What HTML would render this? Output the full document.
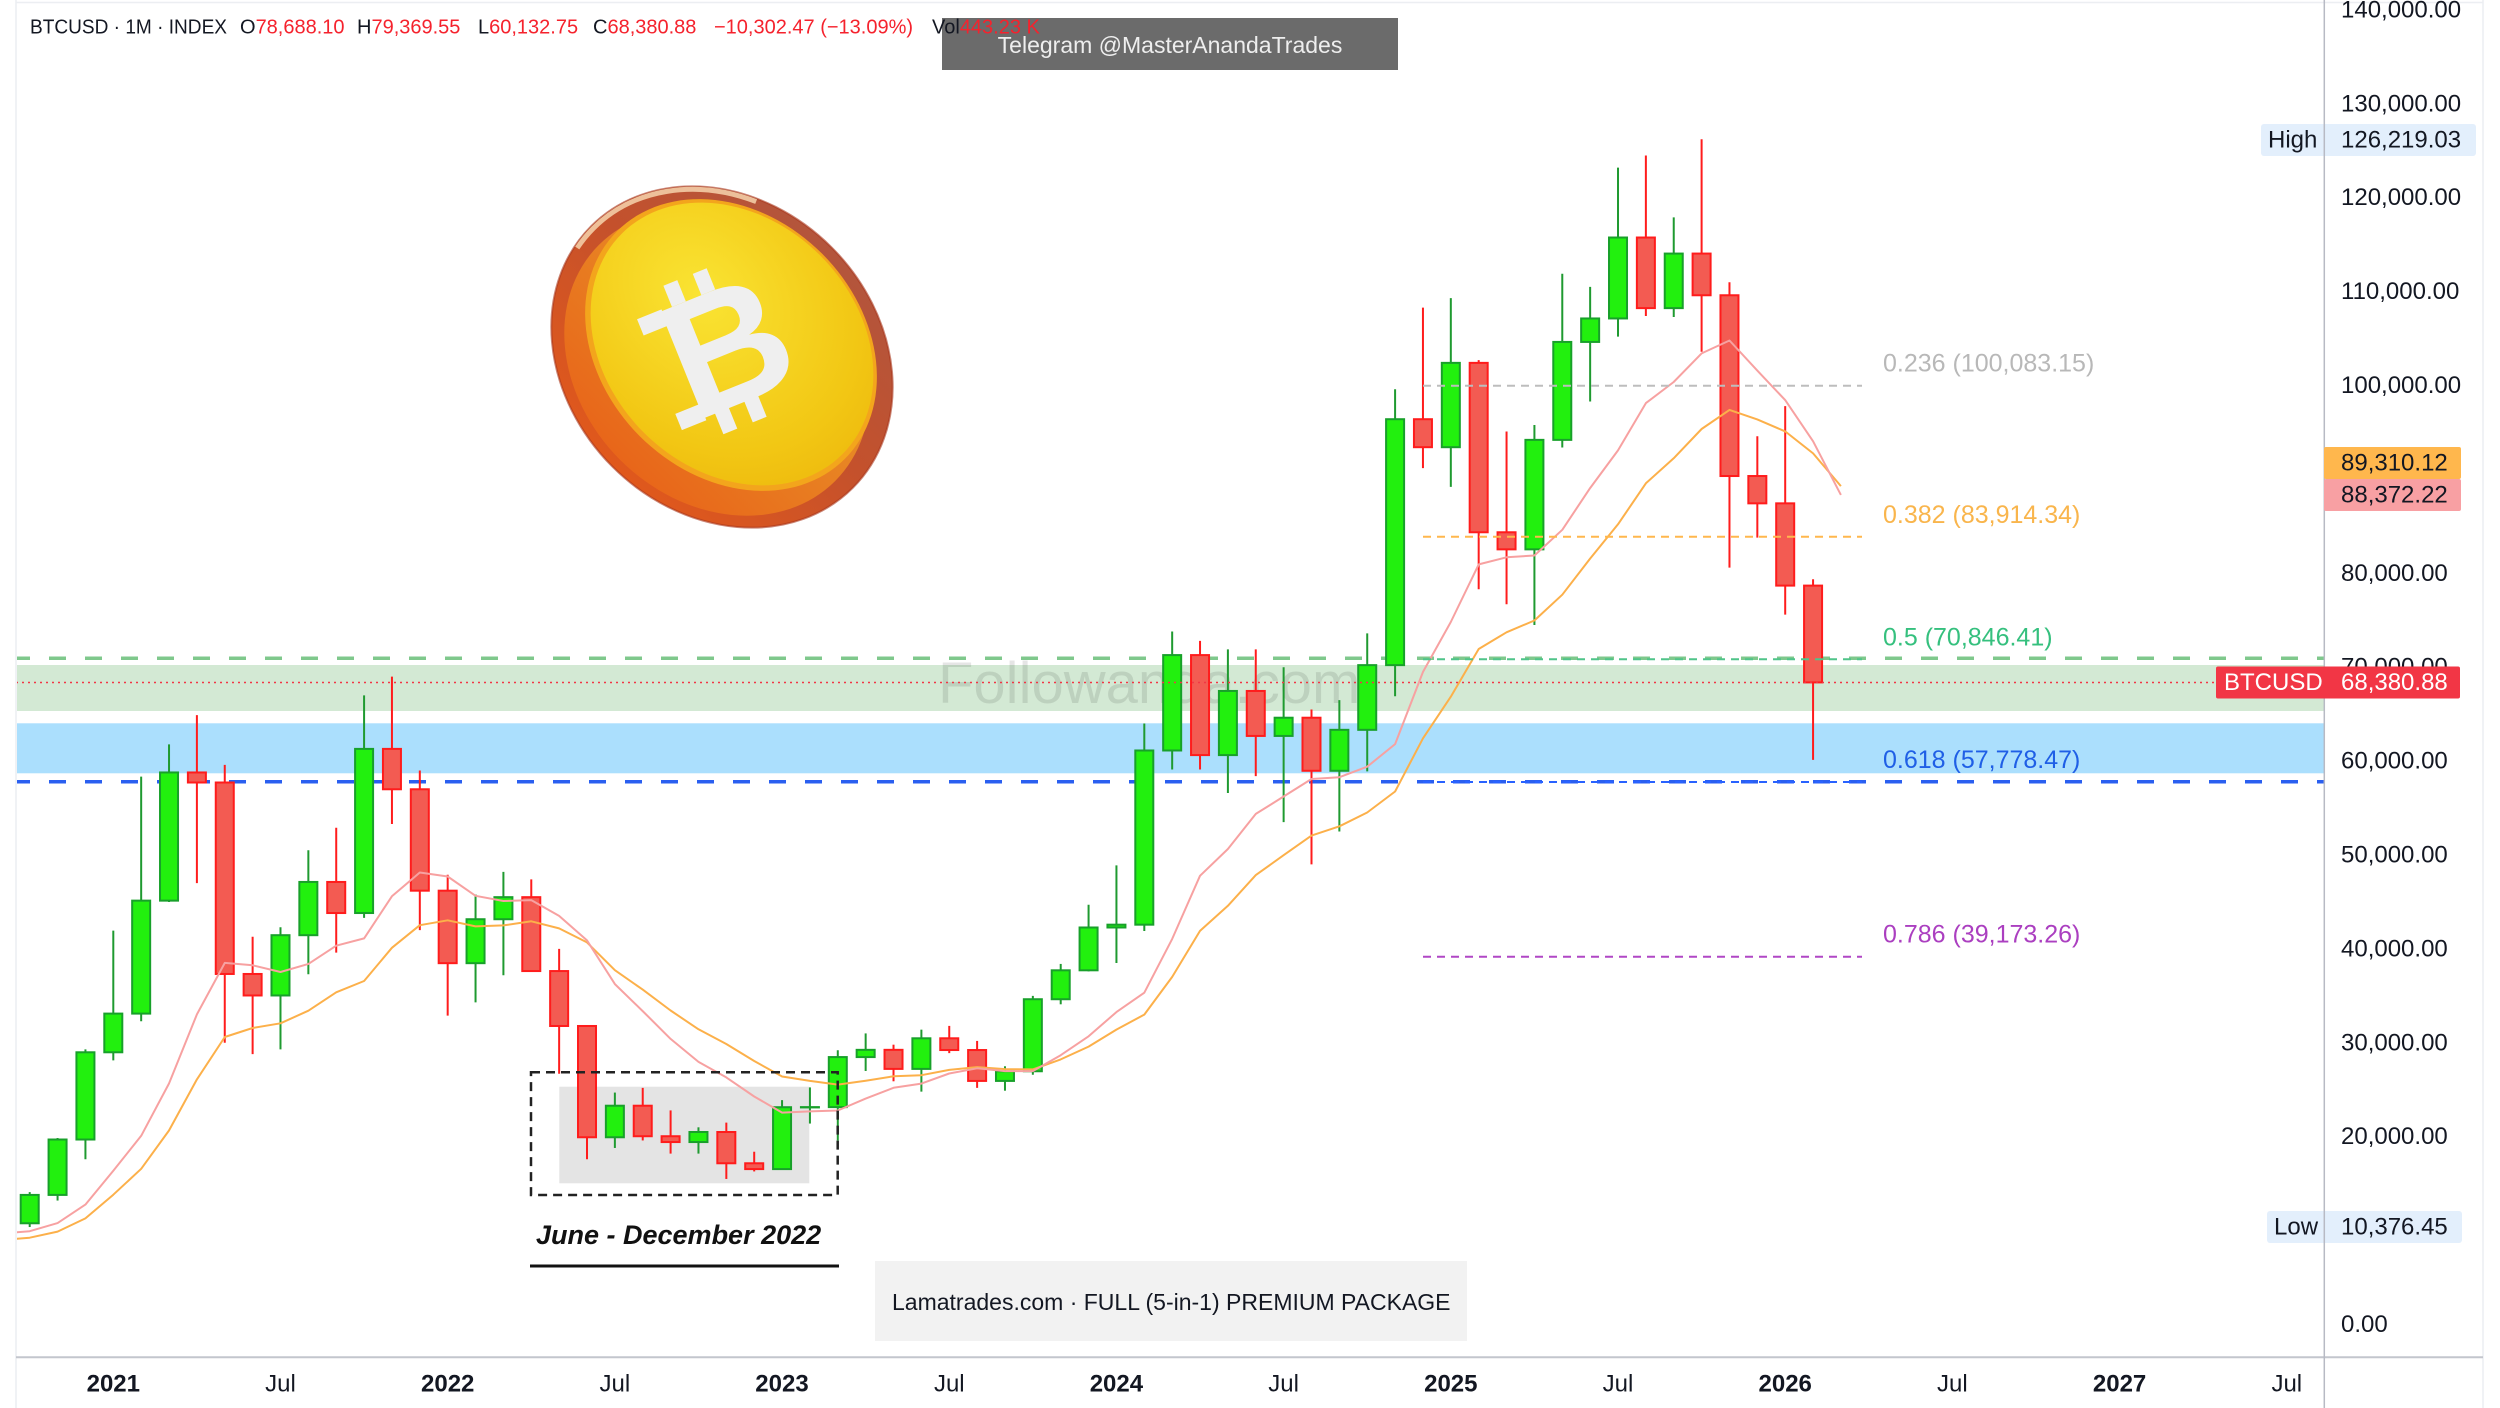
<!DOCTYPE html>
<html><head><meta charset="utf-8"><style>
html,body{margin:0;padding:0;background:#fff;width:2500px;height:1408px;overflow:hidden}
svg{display:block}
</style></head><body>
<svg id="s" width="2500" height="1408" viewBox="0 0 2500 1408" xmlns="http://www.w3.org/2000/svg" font-family="'Liberation Sans', Arial, sans-serif">
<defs>
 <clipPath id="pane"><rect x="17" y="3" width="2307" height="1354"/></clipPath>
 <linearGradient id="rimg" x1="0" y1="0" x2="0" y2="1">
  <stop offset="0" stop-color="#b3553c"/>
  <stop offset="0.45" stop-color="#c4512c"/>
  <stop offset="1" stop-color="#e0581c"/>
 </linearGradient>
 <linearGradient id="bandg" x1="0" y1="0" x2="0" y2="1">
  <stop offset="0" stop-color="#e79a2a"/>
  <stop offset="1" stop-color="#e8661a"/>
 </linearGradient>
 <radialGradient id="faceg" cx="0.32" cy="0.45" r="0.85">
  <stop offset="0" stop-color="#fae433"/>
  <stop offset="0.65" stop-color="#f2c714"/>
  <stop offset="1" stop-color="#ebb20a"/>
 </radialGradient>
</defs>
<rect width="2500" height="1408" fill="#fff"/>

<!-- frame -->
<line x1="16" y1="2.5" x2="2483" y2="2.5" stroke="#eceef2" stroke-width="1.5"/>
<line x1="16" y1="0" x2="16" y2="1408" stroke="#eceef2" stroke-width="1.5"/>
<line x1="2483" y1="0" x2="2483" y2="1408" stroke="#eceef2" stroke-width="1.5"/>

<g clip-path="url(#pane)">
 <!-- zones -->
 <rect x="16" y="665" width="2310" height="46" fill="#d3e9d4"/>
 <rect x="16" y="723.3" width="2310" height="50" fill="#abdffd"/>
 <!-- 2022 gray box fill -->
 <rect x="559.3" y="1086.7" width="250" height="96.6" fill="#e4e4e4"/>
 <!-- watermark -->
 <text x="938" y="703" font-size="58" fill="#000" fill-opacity="0.1">Followanda.com</text>
 <!-- thick horizontal dashed lines -->
 <line x1="13" y1="658.3" x2="2324" y2="658.3" stroke="#7fc88c" stroke-width="3.5" stroke-dasharray="17 19"/>
 <line x1="13" y1="781.7" x2="2324" y2="781.7" stroke="#2a5ff0" stroke-width="3.5" stroke-dasharray="17 19"/>
 <g id="cndl"></g>
 <g id="ma"></g>
 <!-- fib lines -->
 <line x1="1423" y1="385.7" x2="1862" y2="385.7" stroke="#bdbdbd" stroke-width="2" stroke-dasharray="8 6"/>
 <line x1="1423" y1="536.7" x2="1862" y2="536.7" stroke="#ffb74d" stroke-width="2" stroke-dasharray="8 6"/>
 <line x1="1423" y1="659.3" x2="1862" y2="659.3" stroke="#4fc489" stroke-width="2" stroke-dasharray="8 6"/>
 <line x1="1423" y1="782" x2="1862" y2="782" stroke="#2962ff" stroke-width="2" stroke-dasharray="8 6"/>
 <line x1="1423" y1="956.7" x2="1862" y2="956.7" stroke="#b047c5" stroke-width="2" stroke-dasharray="8 6"/>
 <!-- last price dotted line -->
 <line x1="16" y1="682.5" x2="2324" y2="682.5" stroke="#f23645" stroke-width="1.5" stroke-dasharray="2 4"/>
 <!-- dashed black box -->
 <rect x="531" y="1072.3" width="306.7" height="122.7" fill="none" stroke="#222" stroke-width="2.5" stroke-dasharray="9 6"/>
</g>

<!-- fib labels -->
<g font-size="25">
 <text x="1883" y="363.5" fill="#b8b8b8" dominant-baseline="central">0.236 (100,083.15)</text>
 <text x="1883" y="515" fill="#f9b54c" dominant-baseline="central">0.382 (83,914.34)</text>
 <text x="1883" y="637.5" fill="#35c07e" dominant-baseline="central">0.5 (70,846.41)</text>
 <text x="1883" y="760" fill="#1f5fe6" dominant-baseline="central">0.618 (57,778.47)</text>
 <text x="1883" y="934.7" fill="#ab3fc0" dominant-baseline="central">0.786 (39,173.26)</text>
</g>

<!-- June - December 2022 label -->
<text x="536" y="1235" font-size="27" font-weight="bold" font-style="italic" fill="#111" dominant-baseline="central">June - December 2022</text>
<line x1="530" y1="1266" x2="839" y2="1266" stroke="#111" stroke-width="3"/>

<!-- bottom box -->
<rect x="875" y="1261" width="592" height="80" fill="#f2f2f2"/>
<text x="892" y="1302" font-size="23" fill="#131722" dominant-baseline="central">Lamatrades.com · FULL (5-in-1) PREMIUM PACKAGE</text>

<!-- coin -->
<g id="coin">
 <ellipse cx="722" cy="357" rx="185" ry="155" transform="rotate(45 722 357)" fill="url(#rimg)" stroke="#a8361a" stroke-width="2" stroke-opacity="0.6"/>
 <ellipse cx="722" cy="357" rx="182" ry="152" transform="rotate(45 722 357)" fill="none" stroke="#f6d3ad" stroke-width="5" stroke-opacity="0.85" stroke-dasharray="200 2000" stroke-dashoffset="-500"/>
 <ellipse cx="717" cy="363" rx="167" ry="137" transform="rotate(45 717 363)" fill="url(#bandg)"/>
 <ellipse cx="731" cy="345" rx="161" ry="129" transform="rotate(45 731 345)" fill="#f3a51c"/>
 <ellipse cx="732" cy="344" rx="156" ry="125" transform="rotate(45 732 344)" fill="url(#faceg)"/>
 <g transform="translate(728,347) rotate(-22) scale(0.88)" fill="#efefef">
  <text x="0" y="0" font-size="190" font-weight="bold" text-anchor="middle" dominant-baseline="central">B</text>
  <rect x="-42" y="-92" width="17" height="26"/>
  <rect x="-6" y="-92" width="17" height="26"/>
  <rect x="-42" y="64" width="17" height="26"/>
  <rect x="-6" y="64" width="17" height="26"/>
  <rect x="-84" y="-68" width="30" height="20"/>
  <rect x="-84" y="48" width="30" height="20"/>
 </g>
</g>

<!-- Telegram box + header -->
<rect x="942" y="18" width="456" height="52" fill="#6b6b6b"/>
<text x="1170" y="45" font-size="23" fill="#eeeeee" text-anchor="middle" dominant-baseline="central">Telegram @MasterAnandaTrades</text>
<g font-size="20" fill="#131722">
 <text x="30" y="27.5" dominant-baseline="central" textLength="197" lengthAdjust="spacingAndGlyphs">BTCUSD · 1M · INDEX</text>
 <text x="240" y="27.5" dominant-baseline="central">O<tspan fill="#f5222d">78,688.10</tspan></text>
 <text x="357" y="27.5" dominant-baseline="central">H<tspan fill="#f5222d">79,369.55</tspan></text>
 <text x="478" y="27.5" dominant-baseline="central">L<tspan fill="#f5222d">60,132.75</tspan></text>
 <text x="593" y="27.5" dominant-baseline="central">C<tspan fill="#f5222d">68,380.88</tspan></text>
 <text x="714" y="27.5" fill="#f5222d" dominant-baseline="central">−10,302.47 (−13.09%)</text>
 <text x="932" y="27.5" dominant-baseline="central">Vol<tspan fill="#f5222d">443.23 K</tspan></text>
</g>

<!-- axes lines -->
<line x1="16" y1="1357.3" x2="2483" y2="1357.3" stroke="#c3c6cd" stroke-width="2"/>

<!-- price labels -->
<g font-size="24" fill="#131722">
 <text x="2341" y="9.9" dominant-baseline="central">140,000.00</text>
 <text x="2341" y="103.8" dominant-baseline="central">130,000.00</text>
 <text x="2341" y="197.7" dominant-baseline="central">120,000.00</text>
 <text x="2341" y="291.6" dominant-baseline="central">110,000.00</text>
 <text x="2341" y="385.5" dominant-baseline="central">100,000.00</text>
 <text x="2341" y="573.3" dominant-baseline="central">80,000.00</text>
 <text x="2341" y="667.2" dominant-baseline="central">70,000.00</text>
 <text x="2341" y="761.1" dominant-baseline="central">60,000.00</text>
 <text x="2341" y="855" dominant-baseline="central">50,000.00</text>
 <text x="2341" y="948.9" dominant-baseline="central">40,000.00</text>
 <text x="2341" y="1042.8" dominant-baseline="central">30,000.00</text>
 <text x="2341" y="1136.7" dominant-baseline="central">20,000.00</text>
 <text x="2341" y="1324.5" dominant-baseline="central">0.00</text>
</g>

<!-- High / Low tags -->
<rect x="2261" y="124" width="215" height="32" rx="3" fill="#e3effc"/>
<rect x="2267" y="1211" width="195" height="32" rx="3" fill="#e3effc"/>
<line x1="2324.3" y1="0" x2="2324.3" y2="1408" stroke="#b7bac4" stroke-width="1.5"/>
<g font-size="24" fill="#131722">
 <text x="2268" y="140" dominant-baseline="central">High</text>
 <text x="2341" y="140" dominant-baseline="central">126,219.03</text>
 <text x="2274" y="1227" dominant-baseline="central">Low</text>
 <text x="2341" y="1227" dominant-baseline="central">10,376.45</text>
</g>

<!-- MA tags -->
<rect x="2324" y="447" width="137" height="32" rx="2" fill="#ffb74d"/>
<rect x="2324" y="479" width="137" height="32" rx="2" fill="#f8a0a3"/>
<g font-size="24" fill="#131722">
 <text x="2341" y="463" dominant-baseline="central">89,310.12</text>
 <text x="2341" y="495" dominant-baseline="central">88,372.22</text>
</g>

<!-- BTCUSD tag -->
<rect x="2216" y="666.5" width="244" height="32" rx="2" fill="#f23645"/>
<g font-size="24" fill="#ffffff">
 <text x="2224" y="682.5" dominant-baseline="central">BTCUSD</text>
 <text x="2341" y="682.5" dominant-baseline="central">68,380.88</text>
</g>

<!-- time labels -->
<g font-size="24" fill="#131722" text-anchor="middle">
 <text x="113.3" y="1384" font-weight="bold" dominant-baseline="central">2021</text>
 <text x="280.5" y="1384" dominant-baseline="central">Jul</text>
 <text x="447.7" y="1384" font-weight="bold" dominant-baseline="central">2022</text>
 <text x="614.9" y="1384" dominant-baseline="central">Jul</text>
 <text x="782" y="1384" font-weight="bold" dominant-baseline="central">2023</text>
 <text x="949.3" y="1384" dominant-baseline="central">Jul</text>
 <text x="1116.4" y="1384" font-weight="bold" dominant-baseline="central">2024</text>
 <text x="1283.6" y="1384" dominant-baseline="central">Jul</text>
 <text x="1450.8" y="1384" font-weight="bold" dominant-baseline="central">2025</text>
 <text x="1618" y="1384" dominant-baseline="central">Jul</text>
 <text x="1785.2" y="1384" font-weight="bold" dominant-baseline="central">2026</text>
 <text x="1952.4" y="1384" dominant-baseline="central">Jul</text>
 <text x="2119.6" y="1384" font-weight="bold" dominant-baseline="central">2027</text>
 <text x="2286.8" y="1384" dominant-baseline="central">Jul</text>
</g>
</svg>
<script>
(function(){
var NS="http://www.w3.org/2000/svg";
var X0=113.3,DX=27.865,Y0=1324.5,K=9.39;
function X(m){return X0+m*DX;}
function Y(p){return Y0-p*K;}
var d=[
[10.78,14.1,10.38,13.80],[13.80,19.86,13.2,19.70],[19.70,29.3,17.6,28.99],
[28.99,41.95,28.13,33.11],[33.11,58.35,32.3,45.14],[45.14,61.78,45.0,58.79],[58.79,64.9,47.0,57.72],
[57.72,59.6,30.0,37.33],[37.33,41.3,28.8,35.04],[35.04,42.3,29.3,41.46],[41.46,50.5,37.3,47.13],
[47.13,52.9,39.6,43.82],[43.82,67.0,43.3,61.30],[61.30,69.0,53.3,57.00],[57.00,59.0,42.0,46.20],
[46.20,47.9,32.9,38.48],[38.48,45.8,34.3,43.16],[43.16,48.2,37.2,45.51],[45.51,47.4,37.6,37.64],
[37.64,40.0,26.7,31.79],[31.79,31.9,17.6,19.94],[19.94,24.7,18.8,23.30],[23.30,25.2,19.6,20.05],
[20.05,22.8,18.2,19.43],[19.43,21.0,18.2,20.50],[20.50,21.5,15.5,17.17],[17.17,18.4,16.3,16.55],
[16.55,23.9,16.5,23.14],[23.14,25.25,21.4,23.15],[23.15,29.2,19.6,28.48],[28.48,31.0,27.0,29.25],
[29.25,29.8,25.9,27.22],[27.22,31.4,24.8,30.48],[30.48,31.8,28.9,29.23],[29.23,30.2,25.2,25.94],
[25.94,27.5,24.9,26.97],[26.97,35.0,26.6,34.64],[34.64,38.4,34.1,37.72],[37.72,44.7,37.6,42.28],
[42.28,48.9,38.5,42.58],[42.58,64.0,41.9,61.13],[61.13,73.8,59.1,71.29],[71.29,72.8,59.1,60.64],
[60.64,71.9,56.6,67.47],[67.47,71.9,58.4,62.68],[62.68,70.0,53.5,64.62],[64.62,65.5,49.0,58.97],
[58.97,66.5,52.5,63.33],[63.33,73.6,58.9,70.22],[70.22,99.6,66.9,96.41],[96.41,108.3,91.2,93.43],
[93.43,109.3,89.2,102.41],[102.41,102.7,78.3,84.37],[84.37,95.1,76.7,82.55],[82.55,95.8,74.5,94.21],
[94.21,111.9,93.4,104.64],[104.64,110.5,98.3,107.14],[107.14,123.2,105.2,115.76],[115.76,124.5,107.4,108.24],
[108.24,117.9,107.3,114.05],[114.05,126.22,103.6,109.61],[109.61,111.0,80.6,90.36],[90.36,94.6,83.8,87.45],
[87.45,97.8,75.6,78.69],[78.69,79.37,60.13,68.38]
];
var g=document.getElementById('cndl');
function el(n,a,p){var e=document.createElementNS(NS,n);for(var k in a){e.setAttribute(k,a[k]);}p.appendChild(e);return e;}
for(var i=0;i<d.length;i++){
 var m=i-3,o=d[i][0],h=d[i][1],l=d[i][2],c=d[i][3],up=c>=o,cx=X(m);
 var wc=up?'#1f9a30':'#ff1c1c';
 el('line',{x1:cx,x2:cx,y1:Y(h),y2:Y(l),stroke:wc,'stroke-width':2},g);
 var t=Y(Math.max(o,c)),b=Y(Math.min(o,c)),hh=Math.max(b-t,0.3);
 el('rect',{x:cx-9,y:t,width:18,height:hh,fill:up?'#22f00e':'#f35b52',stroke:up?'#18a02a':'#ff1c1c','stroke-width':2},g);
}
var pre=[3.457,3.854,4.105,5.350,8.574,10.817,10.085,9.630,8.293,9.199,7.569,7.193,9.350,8.523,6.424,8.624,9.446,9.138,11.323,11.645,10.776];
var cl=pre.slice();
for(var j=0;j<d.length;j++){cl.push(d[j][3]);}
function ema(n){var a=2/(n+1),e=cl[0],r=[e];for(var i=1;i<cl.length;i++){e=e+a*(cl[i]-e);r.push(e);}return r;}
function pts(r){var s=[];for(var i=0;i<r.length;i++){var m=i-24;if(m<-6)continue;s.push(X(m+1).toFixed(1)+','+Y(r[i]).toFixed(1));}return s.join(' ');}
var mg=document.getElementById('ma');
el('polyline',{points:pts(ema(13)),fill:'none',stroke:'#fcb04a','stroke-width':2,'stroke-linejoin':'round'},mg);
el('polyline',{points:pts(ema(8)),fill:'none',stroke:'#f7a1a1','stroke-width':2,'stroke-linejoin':'round'},mg);
})();
</script>
</body></html>
